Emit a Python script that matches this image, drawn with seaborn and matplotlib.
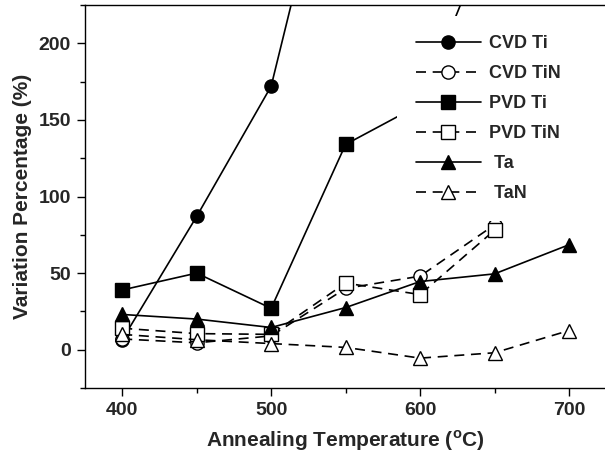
import matplotlib
matplotlib.use("Agg")
import matplotlib.pyplot as plt
from matplotlib.ticker import MultipleLocator
import seaborn as sns

temps = [400, 450, 500, 550, 600, 650, 700]

cvd_ti_t = [400, 450, 500, 550]
cvd_ti = [6.5, 87, 172, 370]

cvd_tin_t = [400, 450, 500, 550, 600, 650]
cvd_tin = [7, 4.5, 9, 40, 48, 81.5]

pvd_ti_t = [400, 450, 500, 550, 600, 650]
pvd_ti = [39, 50, 27, 134, 160, 280]

pvd_tin_t = [400, 450, 500, 550, 600, 650]
pvd_tin = [14, 10.5, 10, 43.5, 36, 78]

ta_t = temps
ta = [23, 20, 14.5, 27.5, 44.5, 49.5, 68.5]

tan_t = temps
tan = [10, 6.5, 4, 1.5, -5.5, -2, 12.5]

sns.set_theme(style="ticks")
plt.rcParams["font.family"] = ["Liberation Sans", "DejaVu Sans"]
plt.rcParams["font.weight"] = "bold"
plt.rcParams["mathtext.fontset"] = "custom"
plt.rcParams["mathtext.rm"] = "Liberation Sans"
plt.rcParams["mathtext.bf"] = "Liberation Sans:bold"

fig = plt.figure(figsize=(6.05, 4.57), dpi=100)
ax = fig.add_axes([85 / 605, 69 / 457, 1.0 - 85 / 605 + 0.002, (388 - 5) / 457])

dash = (0, (6, 4))
series = [
    (cvd_ti_t, cvd_ti, "CVD Ti", "o", "black", "-"),
    (cvd_tin_t, cvd_tin, "CVD TiN", "o", "white", dash),
    (pvd_ti_t, pvd_ti, "PVD Ti", "s", "black", "-"),
    (pvd_tin_t, pvd_tin, "PVD TiN", "s", "white", dash),
    (ta_t, ta, " Ta", "^", "black", "-"),
    (tan_t, tan, " TaN", "^", "white", dash),
]
for xs, ys, lab, mk, fc, ls in series:
    sns.lineplot(x=xs, y=ys, ax=ax, label=lab, color="black", marker=mk,
                 markersize=9.5, markerfacecolor=fc, markeredgecolor="black",
                 markeredgewidth=1.0, linestyle=ls, linewidth=1.2)

ax.set_xlim(375, 725)
ax.set_ylim(-25, 225)
ax.xaxis.set_major_locator(MultipleLocator(100))
ax.xaxis.set_minor_locator(MultipleLocator(50))
ax.yaxis.set_major_locator(MultipleLocator(50))
ax.yaxis.set_minor_locator(MultipleLocator(25))
ax.tick_params(which="major", direction="out", length=6, width=1.0,
               labelsize=14, pad=4, color="black")
ax.tick_params(which="minor", direction="out", length=3.5, width=1.0, color="black")
for sp in ax.spines.values():
    sp.set_linewidth(1.0)
    sp.set_color("black")
    sp.set_visible(True)
for lbl in ax.get_xticklabels() + ax.get_yticklabels():
    lbl.set_fontweight("bold")

ax.set_xlabel(r"Annealing Temperature ($^{\mathbf{o}}$C)", fontsize=15,
              fontweight="bold", labelpad=7)
ax.set_ylabel("Variation Percentage (%)", fontsize=15, fontweight="bold",
              labelpad=5)

leg = ax.legend(loc="upper left", bbox_to_anchor=(397 / 605, 1 - 16 / 457),
                bbox_transform=fig.transFigure, fontsize=13, frameon=True,
                facecolor="white", edgecolor="none", framealpha=1,
                fancybox=False, handlelength=3.6, handletextpad=0.45,
                labelspacing=0.72, borderpad=1.05, borderaxespad=0)
for t in leg.get_texts():
    t.set_fontweight("bold")

fig.savefig("out.png", dpi=100)
